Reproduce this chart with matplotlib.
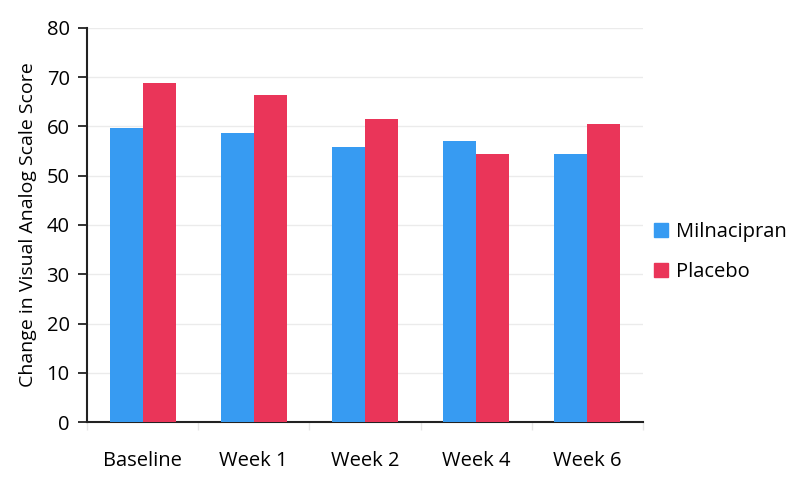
import matplotlib
matplotlib.use("Agg")
import matplotlib.pyplot as plt
import numpy as np
from matplotlib.lines import Line2D

categories = ["Baseline", "Week 1", "Week 2", "Week 4", "Week 6"]
milnacipran = [59.6, 58.7, 55.8, 57.1, 54.5]
placebo = [68.8, 66.3, 61.5, 54.5, 60.5]
series_names = ["Milnacipran", "Placebo"]
colors = ["#379BF2", "#EA3559"]

plt.rcParams['font.family'] = ['Open Sans', 'DejaVu Sans']

fig = plt.figure(figsize=(8.02, 5.0), dpi=100)
ax = fig.add_axes([87/802, 1-422/500, (643-87)/802, (422-28)/500])

x = np.arange(len(categories))
w = 0.297
ax.bar(x - w/2, milnacipran, width=w, color=colors[0], zorder=3)
ax.bar(x + w/2, placebo, width=w, color=colors[1], zorder=3)

ax.set_xlim(-0.5, len(categories) - 0.5)
ax.set_ylim(0, 80)
ax.set_yticks(np.arange(0, 81, 10))
ax.grid(axis='y', color='#ebebeb', linewidth=1, zorder=0)

ax.set_xticks(x)
ax.set_xticklabels(categories, fontsize=14.5)
ax.set_xticks(np.arange(-0.5, len(categories)), minor=True)
ax.tick_params(axis='x', which='major', length=0, pad=21)
ax.tick_params(axis='x', which='minor', length=6, color='#e6e6e6', width=1)
ax.tick_params(axis='y', length=6.5, width=1.3, color='#222222', pad=6, labelsize=14.5)

for s in ['top', 'right']:
    ax.spines[s].set_visible(False)
for s in ['left', 'bottom']:
    ax.spines[s].set_color('#222222')
    ax.spines[s].set_linewidth(1.5)

ax.set_ylabel("Change in Visual Analog Scale Score", fontsize=14, labelpad=7)

handles = [Line2D([0], [0], marker='s', linestyle='none', markersize=10,
                  markerfacecolor=c, markeredgecolor=c) for c in colors]
ax.legend(handles, series_names, loc='center left', frameon=False,
          bbox_to_anchor=(633/802, 1-252/500), bbox_transform=fig.transFigure,
          fontsize=14.5, handletextpad=0.25, labelspacing=1.0, handlelength=1.0)

fig.savefig("out.png", dpi=100)
